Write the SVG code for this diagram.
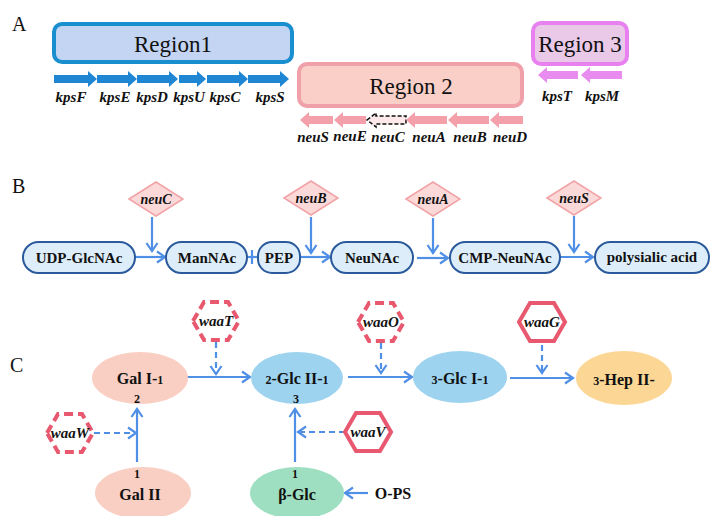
<svg xmlns="http://www.w3.org/2000/svg" width="711" height="516" viewBox="0 0 711 516" font-family="Liberation Serif">
<defs>
<marker id="ah" markerUnits="userSpaceOnUse" markerWidth="14" markerHeight="14" refX="11" refY="7" orient="auto">
<path d="M3,1.5 L11,7 L3,12.5" fill="none" stroke="#4f8fe6" stroke-width="2.2" stroke-linejoin="miter"/>
</marker>
<style>
.lbl{font-size:20px;fill:#111}
.reg{font-size:23px;fill:#111;text-anchor:middle}
.gene{font-size:15px;font-weight:bold;font-style:italic;fill:#111;text-anchor:middle}
.pill{fill:#ddeefa;stroke:#2a5a9c;stroke-width:2}
.pt{font-size:15px;font-weight:bold;fill:#111;text-anchor:middle}
.dia{fill:#fcd9d9;stroke:#f2a3a6;stroke-width:1.5}
.dt{font-size:14px;font-weight:bold;font-style:italic;fill:#111;text-anchor:middle}
.con{stroke:#4f8fe6;stroke-width:2.2;fill:none}
.dash{stroke-dasharray:6,4}
.hex{fill:#fff;stroke:#e8586e;stroke-width:4}
.hexd{stroke-dasharray:9,5}
.et{font-size:16px;font-weight:bold;fill:#111;text-anchor:middle}
.sm{font-size:12px}
.ka{fill:#1f86d4}
.na{fill:#f4a0aa}
.va{fill:#e88cf0}
</style>
</defs>
<rect width="711" height="516" fill="#fff"/>

<!-- Panel A -->
<text class="lbl" x="12" y="31" font-family="Liberation Serif">A</text>
<g id="region1">
<rect x="54" y="24" width="238" height="38" rx="8" fill="#c3d5f3" stroke="#1a8fcf" stroke-width="4"/>
<text class="reg" x="173" y="52" font-family="Liberation Serif">Region1</text>
</g>
<g id="region2">
<rect x="299" y="64" width="223" height="42" rx="8" fill="#f9cfc7" stroke="#f0a0a8" stroke-width="4"/>
<text class="reg" x="411" y="94" font-family="Liberation Serif">Region 2</text>
</g>
<g id="region3">
<rect x="533" y="23" width="94" height="41" rx="8" fill="#eac8e8" stroke="#e880f0" stroke-width="4"/>
<text class="reg" x="580" y="52" font-family="Liberation Serif">Region 3</text>
</g>
<g id="kps-genes">
<polygon class="ka" points="54,75 88,75 88,71 97,79 88,87 88,83 54,83"/>
<polygon class="ka" points="97,75 128,75 128,71 137,79 128,87 128,83 97,83"/>
<polygon class="ka" points="137,75 169,75 169,71 178,79 169,87 169,83 137,83"/>
<polygon class="ka" points="179,75 197,75 197,71 206,79 197,87 197,83 179,83"/>
<polygon class="ka" points="207,75 239,75 239,71 248,79 239,87 239,83 207,83"/>
<polygon class="ka" points="248,75 280,75 280,71 289,79 280,87 280,83 248,83"/>
<text class="gene" x="71" y="102" font-family="Liberation Serif">kpsF</text>
<text class="gene" x="115" y="102" font-family="Liberation Serif">kpsE</text>
<text class="gene" x="152" y="102" font-family="Liberation Serif">kpsD</text>
<text class="gene" x="189" y="102" font-family="Liberation Serif">kpsU</text>
<text class="gene" x="225" y="102" font-family="Liberation Serif">kpsC</text>
<text class="gene" x="270" y="102" font-family="Liberation Serif">kpsS</text>
</g>
<g id="kps-region3-genes">
<polygon class="va" points="538,75 547,67 547,71 578,71 578,79 547,79 547,83"/>
<polygon class="va" points="581,75 590,67 590,71 622,71 622,79 590,79 590,83"/>
<text class="gene" x="557" y="101" font-family="Liberation Serif">kpsT</text>
<text class="gene" x="602" y="101" font-family="Liberation Serif">kpsM</text>
</g>
<g id="neu-genes">
<polygon class="na" points="300,120 309,112 309,116 333,116 333,124 309,124 309,128"/>
<polygon class="na" points="334,120 343,112 343,116 366,116 366,124 343,124 343,128"/>
<polygon points="367,120 376,113 376,116 406,116 406,124 376,124 376,127" fill="#fde8ea" stroke="#111" stroke-width="1.5" stroke-dasharray="4,2"/>
<polygon class="na" points="406,120 415,112 415,116 447,116 447,124 415,124 415,128"/>
<polygon class="na" points="448,120 457,112 457,116 489,116 489,124 457,124 457,128"/>
<polygon class="na" points="490,120 499,112 499,116 523,116 523,124 499,124 499,128"/>
<text class="gene" x="313" y="142" font-family="Liberation Serif">neuS</text>
<text class="gene" x="350" y="141" font-family="Liberation Serif">neuE</text>
<text class="gene" x="388" y="142" font-family="Liberation Serif">neuC</text>
<text class="gene" x="429" y="142" font-family="Liberation Serif">neuA</text>
<text class="gene" x="470" y="142" font-family="Liberation Serif">neuB</text>
<text class="gene" x="510" y="142" font-family="Liberation Serif">neuD</text>
</g>

<!-- Panel B -->
<text class="lbl" x="12" y="193" font-family="Liberation Serif">B</text>
<g id="connectors-B">
<line class="con" x1="135" y1="257" x2="165" y2="257" marker-end="url(#ah)"/>
<line class="con" x1="152" y1="217" x2="152" y2="251" marker-end="url(#ah)"/>
<line class="con" x1="247" y1="257" x2="258" y2="257"/>
<line class="con" x1="252" y1="250" x2="252" y2="264"/>
<line class="con" x1="311" y1="217" x2="311" y2="253" marker-end="url(#ah)"/>
<line class="con" x1="300" y1="257" x2="330" y2="257" marker-end="url(#ah)"/>
<line class="con" x1="433" y1="218" x2="433" y2="253" marker-end="url(#ah)"/>
<line class="con" x1="417" y1="258" x2="448" y2="258" marker-end="url(#ah)"/>
<line class="con" x1="574" y1="216" x2="574" y2="252" marker-end="url(#ah)"/>
<line class="con" x1="560" y1="257" x2="593" y2="257" marker-end="url(#ah)"/>
</g>
<g id="udp-glcnac"><rect class="pill" x="23" y="242" width="112" height="31" rx="15.5"/><text class="pt" x="79" y="263" font-family="Liberation Serif">UDP-GlcNAc</text></g>
<g id="mannac"><rect class="pill" x="166" y="242" width="81" height="31" rx="15.5"/><text class="pt" x="207" y="263" font-family="Liberation Serif">ManNAc</text></g>
<g id="pep"><rect class="pill" x="258" y="242" width="42" height="31" rx="14"/><text class="pt" x="279" y="263" font-family="Liberation Serif">PEP</text></g>
<g id="neunac"><rect class="pill" x="331" y="242" width="82" height="31" rx="15.5"/><text class="pt" x="372" y="263" font-family="Liberation Serif">NeuNAc</text></g>
<g id="cmp-neunac"><rect class="pill" x="450" y="242" width="110" height="31" rx="15.5"/><text class="pt" x="505" y="263" font-family="Liberation Serif">CMP-NeuNAc</text></g>
<g id="polysialic"><rect class="pill" x="595" y="242" width="114" height="31" rx="15.5"/><text class="pt" x="652" y="262" font-family="Liberation Serif">polysialic acid</text></g>
<g id="neuC-enz"><polygon class="dia" points="129,199 156,182 183,199 156,216"/><text class="dt" x="156" y="204" font-family="Liberation Serif">neuC</text></g>
<g id="neuB-enz"><polygon class="dia" points="284,198 311,181 338,198 311,215"/><text class="dt" x="311" y="203" font-family="Liberation Serif">neuB</text></g>
<g id="neuA-enz"><polygon class="dia" points="406,199 433,182 460,199 433,216"/><text class="dt" x="433" y="204" font-family="Liberation Serif">neuA</text></g>
<g id="neuS-enz"><polygon class="dia" points="547,198 574,181 601,198 574,215"/><text class="dt" x="574" y="203" font-family="Liberation Serif">neuS</text></g>

<!-- Panel C -->
<text class="lbl" x="10" y="372" font-family="Liberation Serif">C</text>
<g id="connectors-C">
<line class="con" x1="187" y1="377" x2="250" y2="377" marker-end="url(#ah)"/>
<line class="con dash" x1="216" y1="342" x2="216" y2="374" marker-end="url(#ah)"/>
<line class="con" x1="348" y1="377" x2="412" y2="377" marker-end="url(#ah)"/>
<line class="con dash" x1="381" y1="343" x2="381" y2="373" marker-end="url(#ah)"/>
<line class="con" x1="510" y1="378" x2="573" y2="378" marker-end="url(#ah)"/>
<line class="con dash" x1="542" y1="345" x2="542" y2="373" marker-end="url(#ah)"/>
<line class="con" x1="137" y1="462" x2="137" y2="409" marker-end="url(#ah)"/>
<line class="con dash" x1="94" y1="433" x2="136" y2="433" marker-end="url(#ah)"/>
<line class="con" x1="295" y1="462" x2="295" y2="409" marker-end="url(#ah)"/>
<line class="con dash" x1="345" y1="432" x2="298" y2="432" marker-end="url(#ah)"/>
<line class="con" x1="368" y1="493" x2="345" y2="493" marker-end="url(#ah)"/>
</g>
<g id="gal-I"><ellipse cx="140" cy="378" rx="48" ry="26" fill="#f9cfc3"/><text class="et" x="140" y="384" font-family="Liberation Serif">Gal I-<tspan class="sm">1</tspan></text><text class="et sm" x="137" y="403" font-family="Liberation Serif">2</text></g>
<g id="glc-II"><ellipse cx="297" cy="378" rx="46" ry="26" fill="#9dd3ef"/><text class="et" x="297" y="384" font-family="Liberation Serif"><tspan class="sm">2</tspan>-Glc II-<tspan class="sm">1</tspan></text><text class="et sm" x="296" y="403" font-family="Liberation Serif">3</text></g>
<g id="glc-I"><ellipse cx="460" cy="377" rx="47" ry="26" fill="#9dd3ef"/><text class="et" x="460" y="384" font-family="Liberation Serif"><tspan class="sm">3</tspan>-Glc I-<tspan class="sm">1</tspan></text></g>
<g id="hep-II"><ellipse cx="624" cy="378" rx="48" ry="27" fill="#fcd694"/><text class="et" x="624" y="385" font-family="Liberation Serif"><tspan class="sm">3</tspan>-Hep II-</text></g>
<g id="gal-II"><ellipse cx="143" cy="493" rx="48" ry="26" fill="#f9cfc3"/><text class="et sm" x="137" y="478" font-family="Liberation Serif">1</text><text class="et" x="140" y="500" font-family="Liberation Serif">Gal II</text></g>
<g id="beta-glc"><ellipse cx="297" cy="493" rx="47" ry="26" fill="#9fdfc1"/><text class="et sm" x="295" y="478" font-family="Liberation Serif">1</text><text class="et" x="297" y="500" font-family="Liberation Serif">β-Glc</text></g>
<g id="o-ps"><text class="et" x="393" y="499" font-family="Liberation Serif">O-PS</text></g>
<g id="waaT"><polygon class="hex hexd" points="193,321 204,302 228,302 239,321 228,340 204,340"/><text class="gene" x="216" y="326" font-family="Liberation Serif">waaT</text></g>
<g id="waaO"><polygon class="hex hexd" points="358,322 369,303 393,303 404,322 393,341 369,341"/><text class="gene" x="381" y="327" font-family="Liberation Serif">waaO</text></g>
<g id="waaG"><polygon class="hex" points="519,322 530,303 554,303 565,322 554,341 530,341"/><text class="gene" x="542" y="327" font-family="Liberation Serif">waaG</text></g>
<g id="waaW"><polygon class="hex hexd" points="47,433 58,414 82,414 93,433 82,452 58,452"/><text class="gene" x="70" y="438" font-family="Liberation Serif">waaW</text></g>
<g id="waaV"><polygon class="hex" points="345,432 356,413 380,413 391,432 380,451 356,451"/><text class="gene" x="368" y="437" font-family="Liberation Serif">waaV</text></g>
</svg>
